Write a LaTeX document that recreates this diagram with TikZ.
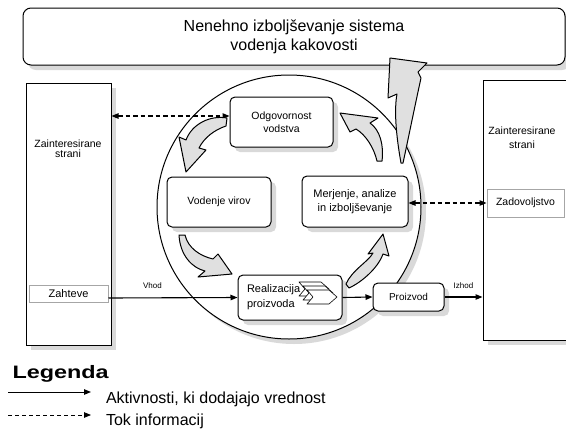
\documentclass[tikz,border=0pt]{standalone}
\usepackage{fontspec}
\setmainfont{Liberation Sans}
\usetikzlibrary{positioning,shadows,arrows.meta}

\begin{document}
\begin{tikzpicture}[x=1pt,y=-1pt]
	\tikzset{>={Triangle[length=7pt,width=5.5pt]}}
	\tikzset{boxNode/.style={draw,line width=1pt,fill=white,rounded corners=5,align=center,font=\fontsize{10.5}{13}\selectfont},
		boxShadow/.style={drop shadow={shadow xshift=5pt,shadow yshift=-5pt,fill=black!15,opacity=1}},
		fatArrow/.style={draw,line width=1pt,fill=black!12,line join=round},
		flowLine/.style={->,line width=1.1pt},
		infoLine/.style={<->,line width=1.1pt,dash pattern=on 4.5pt off 3pt}}
	\useasboundingbox (0,0) rectangle (566,432);
	
	% Top box
	\node (rectTitle) at (294,36.5) [draw,line width=1pt,rounded corners=8,minimum width=542,minimum height=57,fill=white,boxShadow,align=center,font=\fontsize{16}{19}\selectfont] {Nenehno izboljševanje sistema\\vodenja kakovosti};
	
	% Interested parties on both sides
	\node (rectLeft) at (68.5,214) [draw,line width=1pt,minimum width=85,minimum height=262,fill=white,boxShadow] {};
	\node (leftLabel) at (68,149) [align=center,font=\fontsize{10.5}{10}\selectfont] {Zainteresirane\\strani};
	\node (rectReq) at (68.5,294) [draw=black!35,line width=1pt,minimum width=79,minimum height=17,font=\fontsize{11}{13}\selectfont] {Zahteve};
	
	\node (rectRight) at (525,210) [draw,line width=1pt,minimum width=84,minimum height=260,fill=white,boxShadow] {};
	\node (rightLabel) at (522,138) [align=center,font=\fontsize{10.5}{14}\selectfont] {Zainteresirane\\strani};
	\node (rectSat) at (525.5,203) [draw=black!35,line width=1pt,minimum width=77,minimum height=28,fill=white,font=\fontsize{10.5}{13}\selectfont] {Zadovoljstvo};
	
	% The cycle with its processes
	\node (circCycle) at (289,207) [draw,circle,line width=1pt,minimum size=264,fill=white,boxShadow] {};
	\node (boxLead) at (281.5,122) [boxNode,boxShadow,minimum width=103,minimum height=50] {Odgovornost\\vodstva};
	\node (boxRes) at (219,202) [boxNode,boxShadow,minimum width=104,minimum height=50] {Vodenje virov};
	\node (boxMeas) at (355,201.5) [boxNode,boxShadow,minimum width=106,minimum height=51,font=\fontsize{11}{14}\selectfont] {Merjenje, analize\\in izboljševanje};
	\node (boxReal) at (290,297.5) [boxNode,boxShadow,minimum width=104,minimum height=45] {};
	\node (realText) at (243.5,297.5) [anchor=west,align=left,font=\fontsize{11}{15}\selectfont] {Realizacija\\proizvoda};
	\node (boxProd) at (408.5,297) [boxNode,boxShadow,minimum width=71,minimum height=28,font=\fontsize{10}{12}\selectfont] {Proizvod};
	
	% Chevrons inside the realisation box
	\foreach \cx/\cy in {299/282,303/286,307/290}
		\filldraw[fill=white,line width=0.6pt,line join=round] (\cx,\cy) -- ++(22,0) -- ++(8,7) -- ++(-8,7) -- ++(-22,0) -- ++(6,-7) -- cycle;
	
	% Flow of activities
	\draw[flowLine] ([yshift=-4pt]rectReq.east) -- (boxReal.west)
	node [pos=0.34, above=5pt, font=\fontsize{8}{9}\selectfont] (lblIn) {Vhod};
	\draw[flowLine] (boxReal.east) -- (boxProd.west);
	\draw[flowLine] (boxProd.east) -- (boxProd.east -| rectRight.west)
	node [midway, above=5pt, font=\fontsize{8}{9}\selectfont] (lblOut) {Izhod};
	
	% Flow of information
	\coordinate (leadIn) at ([yshift=6pt]boxLead.west);
	\draw[infoLine] (leadIn -| rectLeft.east) -- (leadIn);
	\draw[infoLine] (boxMeas.east |- rectSat.west) -- (rectSat.west);
	
	% Fat arrows of the cycle
	\filldraw[fatArrow] (227,118) .. controls (210,115) and (192,124) .. (186,140) -- (179,137) -- (186,172) -- (206,150) -- (199,148) .. controls (204,138) and (214,130) .. (226,126) -- cycle;
	\filldraw[fatArrow] (179,235) .. controls (180,255) and (192,268) .. (205,271) -- (198,277) -- (232,274) -- (218,254) -- (213,259) .. controls (200,256) and (188,248) .. (185,235) -- cycle;
	\filldraw[fatArrow] (346,284) .. controls (352,270) and (368,262) .. (373,253) -- (368,254) -- (383,234) -- (389,256) -- (383,254) .. controls (378,268) and (362,282) .. (349,288) -- cycle;
	\filldraw[fatArrow] (382,161) .. controls (384,145) and (380,130) .. (370,123) -- (378,118) -- (340,113) -- (350,132) -- (356,129) .. controls (366,135) and (374,148) .. (377,161) -- cycle;
	\filldraw[fatArrow] (401,163) .. controls (396,135) and (394,110) .. (397,94) -- (388,98) -- (390,58) -- (427,63) -- (418,72) -- (421,78) .. controls (414,110) and (408,140) .. (403,163) -- cycle;
	
	% Legend
	\node[anchor=base west, font=\fontsize{18}{20}\selectfont\bfseries] (legTitle) at (9,378) {\scalebox{1.3}[1]{Legenda}};
	\coordinate (legActA) at (8,392);
	\coordinate (legActB) at (91,392);
	\draw[->, line width=1pt] (legActA) -- (legActB);
	\node[anchor=base west, font=\fontsize{16}{18}\selectfont] (legAct) at (102.5,403) {Aktivnosti, ki dodajajo vrednost};
	\coordinate (legInfA) at (8,415);
	\coordinate (legInfB) at (91,415);
	\draw[->, line width=0.8pt, dash pattern=on 4pt off 3pt] (legInfA) -- (legInfB);
	\node[anchor=base west, font=\fontsize{16}{18}\selectfont] (legInf) at (102.5,425) {Tok informacij};
	
\end{tikzpicture}
\end{document}
